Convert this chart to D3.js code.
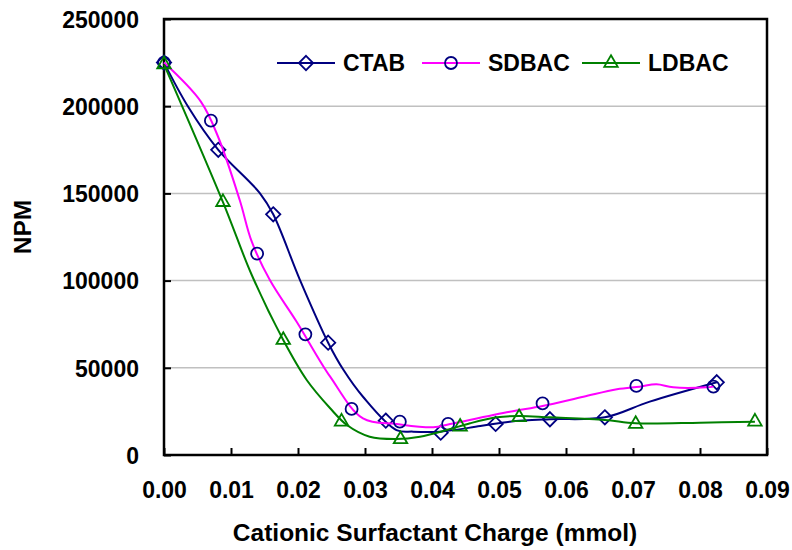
<!DOCTYPE html>
<html>
<head>
<meta charset="utf-8">
<script src="https://cdn.jsdelivr.net/npm/d3@7"></script>
<style>
  body { margin: 0; background: #fff; }
  text { font-family: "Liberation Sans", Arial, sans-serif; font-weight: bold; fill: #000; }
</style>
</head>
<body>
<svg id="chart" width="792" height="550"></svg>
<script>
// ---- data ----
const xTicks = [0, 0.01, 0.02, 0.03, 0.04, 0.05, 0.06, 0.07, 0.08, 0.09];
const yTicks = [0, 50000, 100000, 150000, 200000, 250000];
const seriesNames = ["CTAB", "SDBAC", "LDBAC"];

// marker points [charge, NPM]
const ctabPoints = [[0, 225000], [0.0081, 175000], [0.0163, 138000], [0.0245, 64400], [0.0331, 19700],
  [0.0413, 12800], [0.0495, 17800], [0.0576, 20500], [0.0658, 21600], [0.0825, 41700]];
const sdbacPoints = [[0, 225000], [0.0070, 191700], [0.0139, 115500], [0.0211, 69200], [0.0280, 26400],
  [0.0352, 19100], [0.0424, 17800], [0.0565, 29600], [0.0705, 39600], [0.0820, 39200]];
const ldbacPoints = [[0, 224000], [0.0088, 145000], [0.0178, 65900], [0.0265, 19100], [0.0353, 9000],
  [0.0442, 16200], [0.0530, 21600], [0.0704, 17800], [0.0882, 19100]];

// smoothed curves drawn through the data
const ctabCurve = [[0, 225000], [0.0036, 199700], [0.0081, 175000], [0.0143, 150200], [0.0163, 138000],
  [0.0203, 100300], [0.0245, 64400], [0.0268, 48700], [0.0297, 33400], [0.0347, 14300], [0.0372, 13400],
  [0.0412, 13400], [0.0472, 16600], [0.0516, 19100], [0.0576, 20500], [0.0658, 21600], [0.0725, 30600],
  [0.0825, 41700]];
const sdbacCurve = [[0, 225000], [0.0055, 202600], [0.0081, 182200], [0.0113, 146200], [0.0131, 122300],
  [0.0158, 100300], [0.0198, 76400], [0.0248, 44900], [0.0297, 21000], [0.0347, 17800], [0.0402, 15900],
  [0.0427, 17800], [0.0516, 24800], [0.0565, 28100], [0.0626, 33400], [0.0676, 37700], [0.0710, 39200],
  [0.0735, 40500], [0.0760, 38800], [0.0810, 38800], [0.0820, 39200]];
const ldbacCurve = [[0, 224000], [0.0088, 145000], [0.0131, 103200], [0.0178, 65900], [0.0213, 43000],
  [0.0248, 26800], [0.0273, 17200], [0.0307, 10500], [0.0347, 9200], [0.0382, 10500], [0.0422, 14300],
  [0.0457, 18200], [0.0497, 21600], [0.0530, 22400], [0.0576, 21600], [0.0658, 20100], [0.0704, 18200],
  [0.0800, 18500], [0.0882, 19100]];

const colors = ["#000080", "#ff00ff", "#008000"];
const markerColors = ["#000080", "#000080", "#008000"];
const symbols = [d3.symbolDiamond2, d3.symbolCircle, d3.symbolTriangle2];

const series = seriesNames.map((name, i) => ({
  name: name,
  points: [ctabPoints, sdbacPoints, ldbacPoints][i],
  curve: [ctabCurve, sdbacCurve, ldbacCurve][i],
  color: colors[i],
  markerColor: markerColors[i],
  symbol: symbols[i]
}));

// ---- layout ----
const plot = { left: 164, right: 767, top: 19, bottom: 455 };
const svg = d3.select("#chart");

let x = d3.scaleLinear().domain([0, 0.09]).range([plot.left, plot.right]);
let y = d3.scaleLinear().domain([0, 250000]).range([plot.bottom, plot.top]);

// gridlines
svg.append("g")
  .selectAll("line")
  .data(yTicks.filter(d => d > 0 && d < 250000))
  .join("line")
  .attr("x1", plot.left).attr("x2", plot.right)
  .attr("y1", d => y(d)).attr("y2", d => y(d))
  .style("stroke", "#c0c0c0")
  .style("stroke-width", 1.5);

// axes
let x_axis = svg.append("g")
  .attr("transform", `translate(0,${plot.bottom})`)
  .call(d3.axisBottom(x).tickValues(xTicks).tickSizeInner(-7).tickSizeOuter(0).tickFormat(d3.format(".2f")));
let y_axis = svg.append("g")
  .attr("transform", `translate(${plot.left},0)`)
  .call(d3.axisLeft(y).tickValues(yTicks).tickSizeInner(-7).tickSizeOuter(0).tickFormat(d3.format("d")));

x_axis.select(".domain").remove();
y_axis.select(".domain").remove();
x_axis.selectAll("line").style("stroke", "#000").style("stroke-width", 2);
y_axis.selectAll("line").style("stroke", "#000").style("stroke-width", 2);

x_axis.selectAll("text")
  .attr("y", 43).attr("dy", null)
  .style("font-size", "23px");
y_axis.selectAll("text")
  .attr("x", -25).attr("dy", "0.36em")
  .style("font-size", "23px");

// frame
svg.append("rect")
  .attr("x", plot.left).attr("y", plot.top)
  .attr("width", plot.right - plot.left).attr("height", plot.bottom - plot.top)
  .style("fill", "none").style("stroke", "#000").style("stroke-width", 2.5);

// axis titles
svg.append("text")
  .attr("transform", `translate(435,541)`)
  .style("text-anchor", "middle")
  .style("font-size", "24.5px")
  .text("Cationic Surfactant Charge (mmol)");

svg.append("text")
  .attr("transform", `translate(31,227) rotate(-90)`)
  .style("text-anchor", "middle")
  .style("font-size", "24.5px")
  .text("NPM");

// series
let line = d3.line().x(d => x(d[0])).y(d => y(d[1])).curve(d3.curveCatmullRom.alpha(0.5));
let markerPath = s => d3.symbol().type(s.symbol).size(s.symbol === d3.symbolCircle ? 113 : 130)();

series.forEach(s => {
  let g = svg.append("g").attr("class", "series");
  g.append("path")
    .datum(s.curve)
    .attr("d", line)
    .style("fill", "none")
    .style("stroke", s.color)
    .style("stroke-width", 2);
  g.selectAll("path.marker")
    .data(s.points)
    .join("path")
    .attr("class", "marker")
    .attr("transform", d => `translate(${x(d[0])},${y(d[1])})`)
    .attr("d", markerPath(s))
    .style("fill", "none")
    .style("stroke", s.markerColor)
    .style("stroke-width", 1.8);
});

// legend
const legendY = 63;
const legendStarts = [277, 422, 582];
series.forEach((s, i) => {
  let lx = legendStarts[i];
  let g = svg.append("g").attr("class", "legend");
  g.append("line")
    .attr("x1", lx).attr("x2", lx + 58)
    .attr("y1", legendY).attr("y2", legendY)
    .style("stroke", s.color).style("stroke-width", 2);
  g.append("path")
    .attr("transform", `translate(${lx + 29},${legendY})`)
    .attr("d", markerPath(s))
    .style("fill", "none").style("stroke", s.markerColor).style("stroke-width", 1.8);
  g.append("text")
    .attr("x", lx + 66).attr("y", legendY)
    .attr("dy", "0.36em")
    .style("font-size", "23px")
    .text(s.name);
});
</script>
</body>
</html>
